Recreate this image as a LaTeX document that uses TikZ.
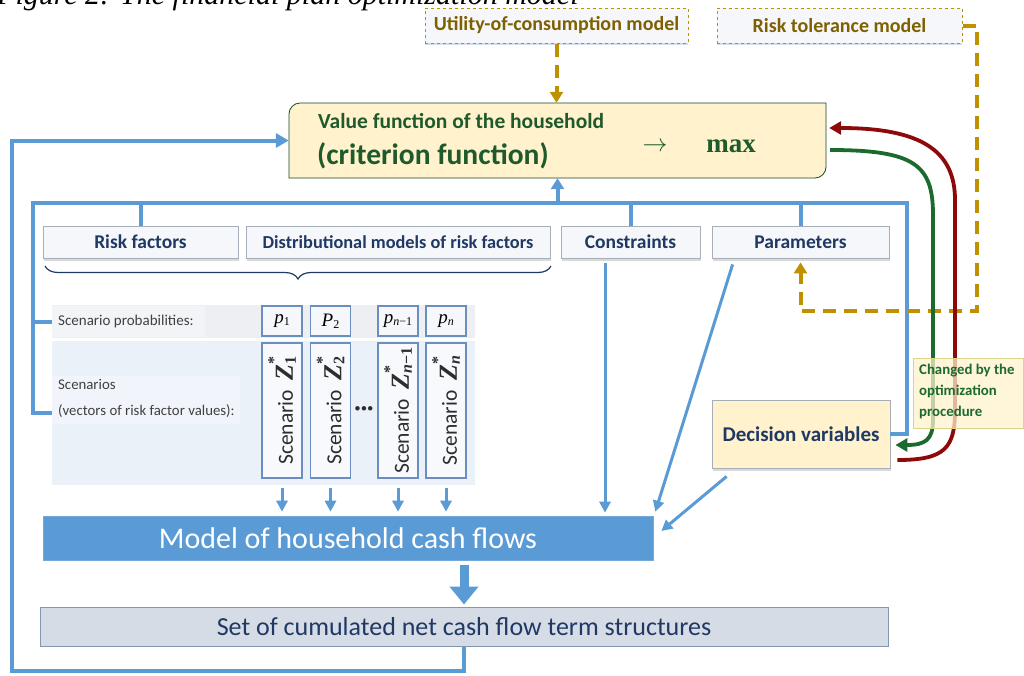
\documentclass[tikz,border=0pt]{standalone}
\usepackage{fontspec}
\setmainfont{Carlito}
\newfontfamily\tms{Liberation Serif}
\usetikzlibrary{arrows.meta,calc,decorations.pathreplacing,shadows}

\definecolor{flowblue}{HTML}{5B9BD5}
\definecolor{navy}{HTML}{1F3864}
\definecolor{gold}{HTML}{BF9000}
\definecolor{goldtext}{HTML}{7F6000}
\definecolor{valgreen}{HTML}{1E5A2C}
\definecolor{cream}{HTML}{FFF2CC}
\definecolor{paleface}{HTML}{F5F7FA}
\definecolor{paleedge}{HTML}{A6AEBA}
\definecolor{optred}{HTML}{8E0A0A}
\definecolor{optgreen}{HTML}{1B6A2E}
\definecolor{steel}{HTML}{6A8EC0}
\definecolor{probrowfill}{HTML}{EDEFF3}
\definecolor{scenrowfill}{HTML}{EAF1F9}
\definecolor{labelgrey}{HTML}{404040}
\definecolor{setfill}{HTML}{D6DCE5}
\definecolor{setedge}{HTML}{8497B0}

\newcommand{\setsz}[1]{\fontsize{#1}{#1}\selectfont}
% probability label: letter plus small subscript
\newcommand{\prob}[2]{{\tms\setsz{19}\itshape #1}\raisebox{-2pt}{\tms\setsz{12}#2}}
% rotated scenario label with starred vector name
\newcommand{\scen}[1]{\setsz{21.5}Scenario\ \ {\tms\setsz{26}\bfseries\itshape Z}\makebox[0pt][l]{\raisebox{14pt}{\tms\setsz{16}\bfseries *}}\raisebox{-3pt}{\tms\setsz{16}\bfseries #1}}

\tikzset{
  lbox/.style={draw=paleedge, line width=0.8pt, fill=paleface, minimum height=32pt,
    inner sep=0pt, font=\setsz{19.5}\bfseries, text=navy,
    drop shadow={shadow xshift=0.5pt, shadow yshift=-2.5pt, opacity=0.3, fill=gray}},
  topbox/.style={draw=gold, dashed, line width=1pt, fill=paleface, minimum height=35pt,
    inner sep=0pt, font=\setsz{20}\bfseries, text=goldtext,
    drop shadow={shadow xshift=0pt, shadow yshift=-2pt, opacity=0.3, fill=steel}},
  pbox/.style={draw=steel, line width=1.2pt, fill=paleface, minimum width=40pt,
    minimum height=30pt, inner sep=0pt},
  sbox/.style={draw=steel, line width=1.2pt, fill=white!60!scenrowfill, minimum width=40pt,
    minimum height=135pt, inner sep=0pt},
  blueline/.style={draw=flowblue, line width=4pt},
  thinblue/.style={draw=flowblue, line width=3pt, -{Triangle[length=11pt,width=11pt]}},
  golddash/.style={draw=gold, line width=4pt, dash pattern=on 13pt off 8pt},
  optline/.style={line width=3.8pt},
}

\begin{document}
\begin{tikzpicture}[x=1pt, y=-1pt]
\useasboundingbox (0,0) rectangle (1024,675);

% caption line, cut by the page edge
\node[anchor=base west, inner sep=0pt, font=\tms\setsz{30}\itshape] (caption) at (-3,4)
  {Figure 2: The financial plan optimization model};

% ---------- external models ----------
\node[topbox, minimum width=263pt] (util) at (556.5,25.5) {Utility-of-consumption model};
\node[topbox, minimum width=245pt] (risktol) at (839.5,25.5) {Risk tolerance model};

% ---------- value function ----------
\node[minimum width=537pt, minimum height=75pt, inner sep=0pt] (value) at (557.5,140.5) {};
\draw[draw=valgreen!80!black, line width=0.8pt, fill=cream]
  (289,178) -- (289,114) .. controls (289,108) and (294,103) .. (300,103)
  -- (826,103) -- (826,167) .. controls (826,173) and (821,178) .. (815,178) -- cycle;
\node[anchor=west, inner sep=0pt, font=\setsz{21.5}\bfseries, text=valgreen] (vt1) at (318,121)
  {Value function of the household};
\node[anchor=west, inner sep=0pt, font=\setsz{29.5}\bfseries, text=valgreen] (vt2) at (317,156)
  {(criterion function)};
\node[inner sep=0pt, text=valgreen, font=\setsz{27}] (vto) at (655,147) {$\rightarrow$};
\node[inner sep=0pt, text=valgreen, font=\tms\setsz{27}\bfseries] (vmax) at (731,146) {max};

% ---------- inputs row ----------
\node[lbox, minimum width=195pt] (riskf) at (140.5,242) {Risk factors};
\node[lbox, minimum width=304pt, font=\setsz{18.3}\bfseries] (distm) at (398,242) {Distributional models of risk factors};
\node[lbox, minimum width=139pt] (constr) at (630.5,242) {Constraints};
\node[lbox, minimum width=177pt] (params) at (800.5,242) {Parameters};

\draw[navy, line width=1.2pt, decorate,
  decoration={brace, mirror, amplitude=13pt, aspect=0.5}] (45,266) -- (551,266);

% ---------- scenario table ----------
\node[fill=probrowfill, minimum width=423pt, minimum height=33pt, inner sep=0pt] (probrow) at (263.5,321.5) {};
\node[fill=scenrowfill, minimum width=423pt, minimum height=144pt, inner sep=0pt] (scenrow) at (263.5,413) {};
\fill[white, opacity=0.35] (52,306) rectangle (205,337);
\fill[white, opacity=0.35] (52,376) rectangle (240,424);

\node[anchor=west, inner sep=0pt, text=labelgrey, font=\setsz{15}] (probl) at (58,321)
  {Scenario probabilities:};
\node[anchor=west, inner sep=0pt, text=labelgrey, font=\fontsize{14.8}{26}\selectfont, align=left] (scenl) at (58,398)
  {Scenarios\\(vectors of risk factor values):};

\node[pbox] (p1) at (282,321) {\prob{p}{1}};
\node[pbox] (p2) at (330.5,321) {\prob{P}{2}};
\node[pbox] (p3) at (398,321) {\prob{p}{\itshape n\upshape −1}};
\node[pbox] (p4) at (446,321) {\prob{p}{\itshape n}};

\node[sbox] (s1) at (282,410.5) {};
\node[sbox] (s2) at (330.5,410.5) {};
\node[sbox] (s3) at (398,410.5) {};
\node[sbox] (s4) at (446,410.5) {};
\node[rotate=90, inner sep=0pt, text=labelgrey!70!black] (s1t) at (s1.center) {\scen{1}};
\node[rotate=90, inner sep=0pt, text=labelgrey!70!black] (s2t) at (s2.center) {\scen{2}};
\node[rotate=90, inner sep=0pt, text=labelgrey!70!black] (s3t) at (s3.center) {\scen{{\itshape n}−1}};
\node[rotate=90, inner sep=0pt, text=labelgrey!70!black] (s4t) at (s4.center) {\scen{\itshape n}};
\node[inner sep=0pt, text=labelgrey!70!black] (sdots) at (364,411) {\setsz{24}\bfseries ···};

% ---------- cash-flow model and output ----------
\node[fill=flowblue, draw=flowblue!85!white, line width=0.6pt, minimum width=610pt, minimum height=44pt,
  inner sep=0pt, text=white, font=\setsz{30}] (model) at (348,538) {Model of household cash flows};
\node[fill=setfill, draw=setedge, line width=1pt, minimum width=848pt, minimum height=39pt,
  inner sep=0pt, text=navy, font=\setsz{26}] (setcf) at (464,626.5) {Set of cumulated net cash flow term structures};

% ---------- decision variables ----------
\node[lbox, fill=cream, minimum width=178pt, minimum height=68pt, font=\setsz{21}\bfseries] (dec) at (801,434)
  {Decision variables};

% ---------- blue connectors ----------
\draw[blueline, -{Triangle[length=13pt,width=14pt]}] (setcf.south) |- (12,671) |- (value.west);
\draw[blueline] (scenrow.west) -- (33,413) -- (33,203) -- (907,203) |- (dec.east);
\draw[blueline] (probrow.west) -- (33,321.5);
\draw[blueline] (riskf.north) -- (riskf.north |- 0,203);
\draw[blueline] (constr.north) -- (constr.north |- 0,203);
\draw[blueline] (params.north) -- (params.north |- 0,203);
\draw[blueline, -{Triangle[length=11pt,width=13pt]}] (value.south |- 0,203) -- (value.south);

\foreach \s in {s1,s2,s3,s4}
  \draw[thinblue, shorten <=9pt, shorten >=4pt] (\s.south) -- (\s.south |- model.north);

\coordinate (cA) at ($(constr.south)+(-25.5,5)$);
\draw[thinblue, shorten >=3pt] (cA) -- (cA |- model.north);
\coordinate (pA) at ($(params.south west)+(21,6)$);
\coordinate (pB) at ($(model.north east)+(2,-4)$);
\draw[thinblue] (pA) -- (pB);
\coordinate (dA) at ($(dec.south west)+(15,8)$);
\coordinate (dB) at ($(model.east)+(8,-7)$);
\draw[thinblue] (dA) -- (dB);

\draw[draw=flowblue, line width=9pt, -{Triangle[length=18pt,width=28pt]}, shorten <=5pt, shorten >=2pt]
  (model.south -| setcf.north) -- (setcf.north);

% ---------- dashed model links ----------
\draw[golddash, -{Triangle[length=11pt,width=13pt]}] (util.south) -- (value.north -| util.south);
\coordinate (gR) at (977,311);
\draw[golddash, -{Triangle[length=11pt,width=13pt]}, shorten >=4pt] (risktol.east) -| (gR) -| (params.south);

% ---------- optimization loop ----------
\coordinate (rS) at ($(dec.east)+(7,26)$);
\coordinate (rE) at ($(value.east)+(3,-12.5)$);
\draw[optline, optred, -{Triangle[length=12pt,width=13pt]}]
  (rS) .. controls (945,460) and (955,448) .. (955,410) -- (955,200)
  .. controls (955,150) and (920,128) .. (rE);
\coordinate (gS) at ($(value.east)+(4,9.5)$);
\coordinate (gE) at ($(dec.east)+(5,11)$);
\draw[optline, optgreen, -{Triangle[length=12pt,width=13pt]}]
  (gS) .. controls (915,150) and (933,165) .. (933,215) -- (933,420)
  .. controls (933,440) and (925,445) .. (gE);

\node[fill=cream, fill opacity=0.75, draw=olive!35, line width=0.8pt, minimum width=110pt, minimum height=70pt,
  inner sep=0pt, text opacity=1] (changed) at (968,393.5) {};
\node[anchor=north west, inner sep=0pt, text=optgreen, font=\fontsize{14.8}{21}\selectfont\bfseries, align=left]
  (changedt) at (919,364) {Changed by the\\optimization\\procedure};
\end{tikzpicture}
\end{document}
